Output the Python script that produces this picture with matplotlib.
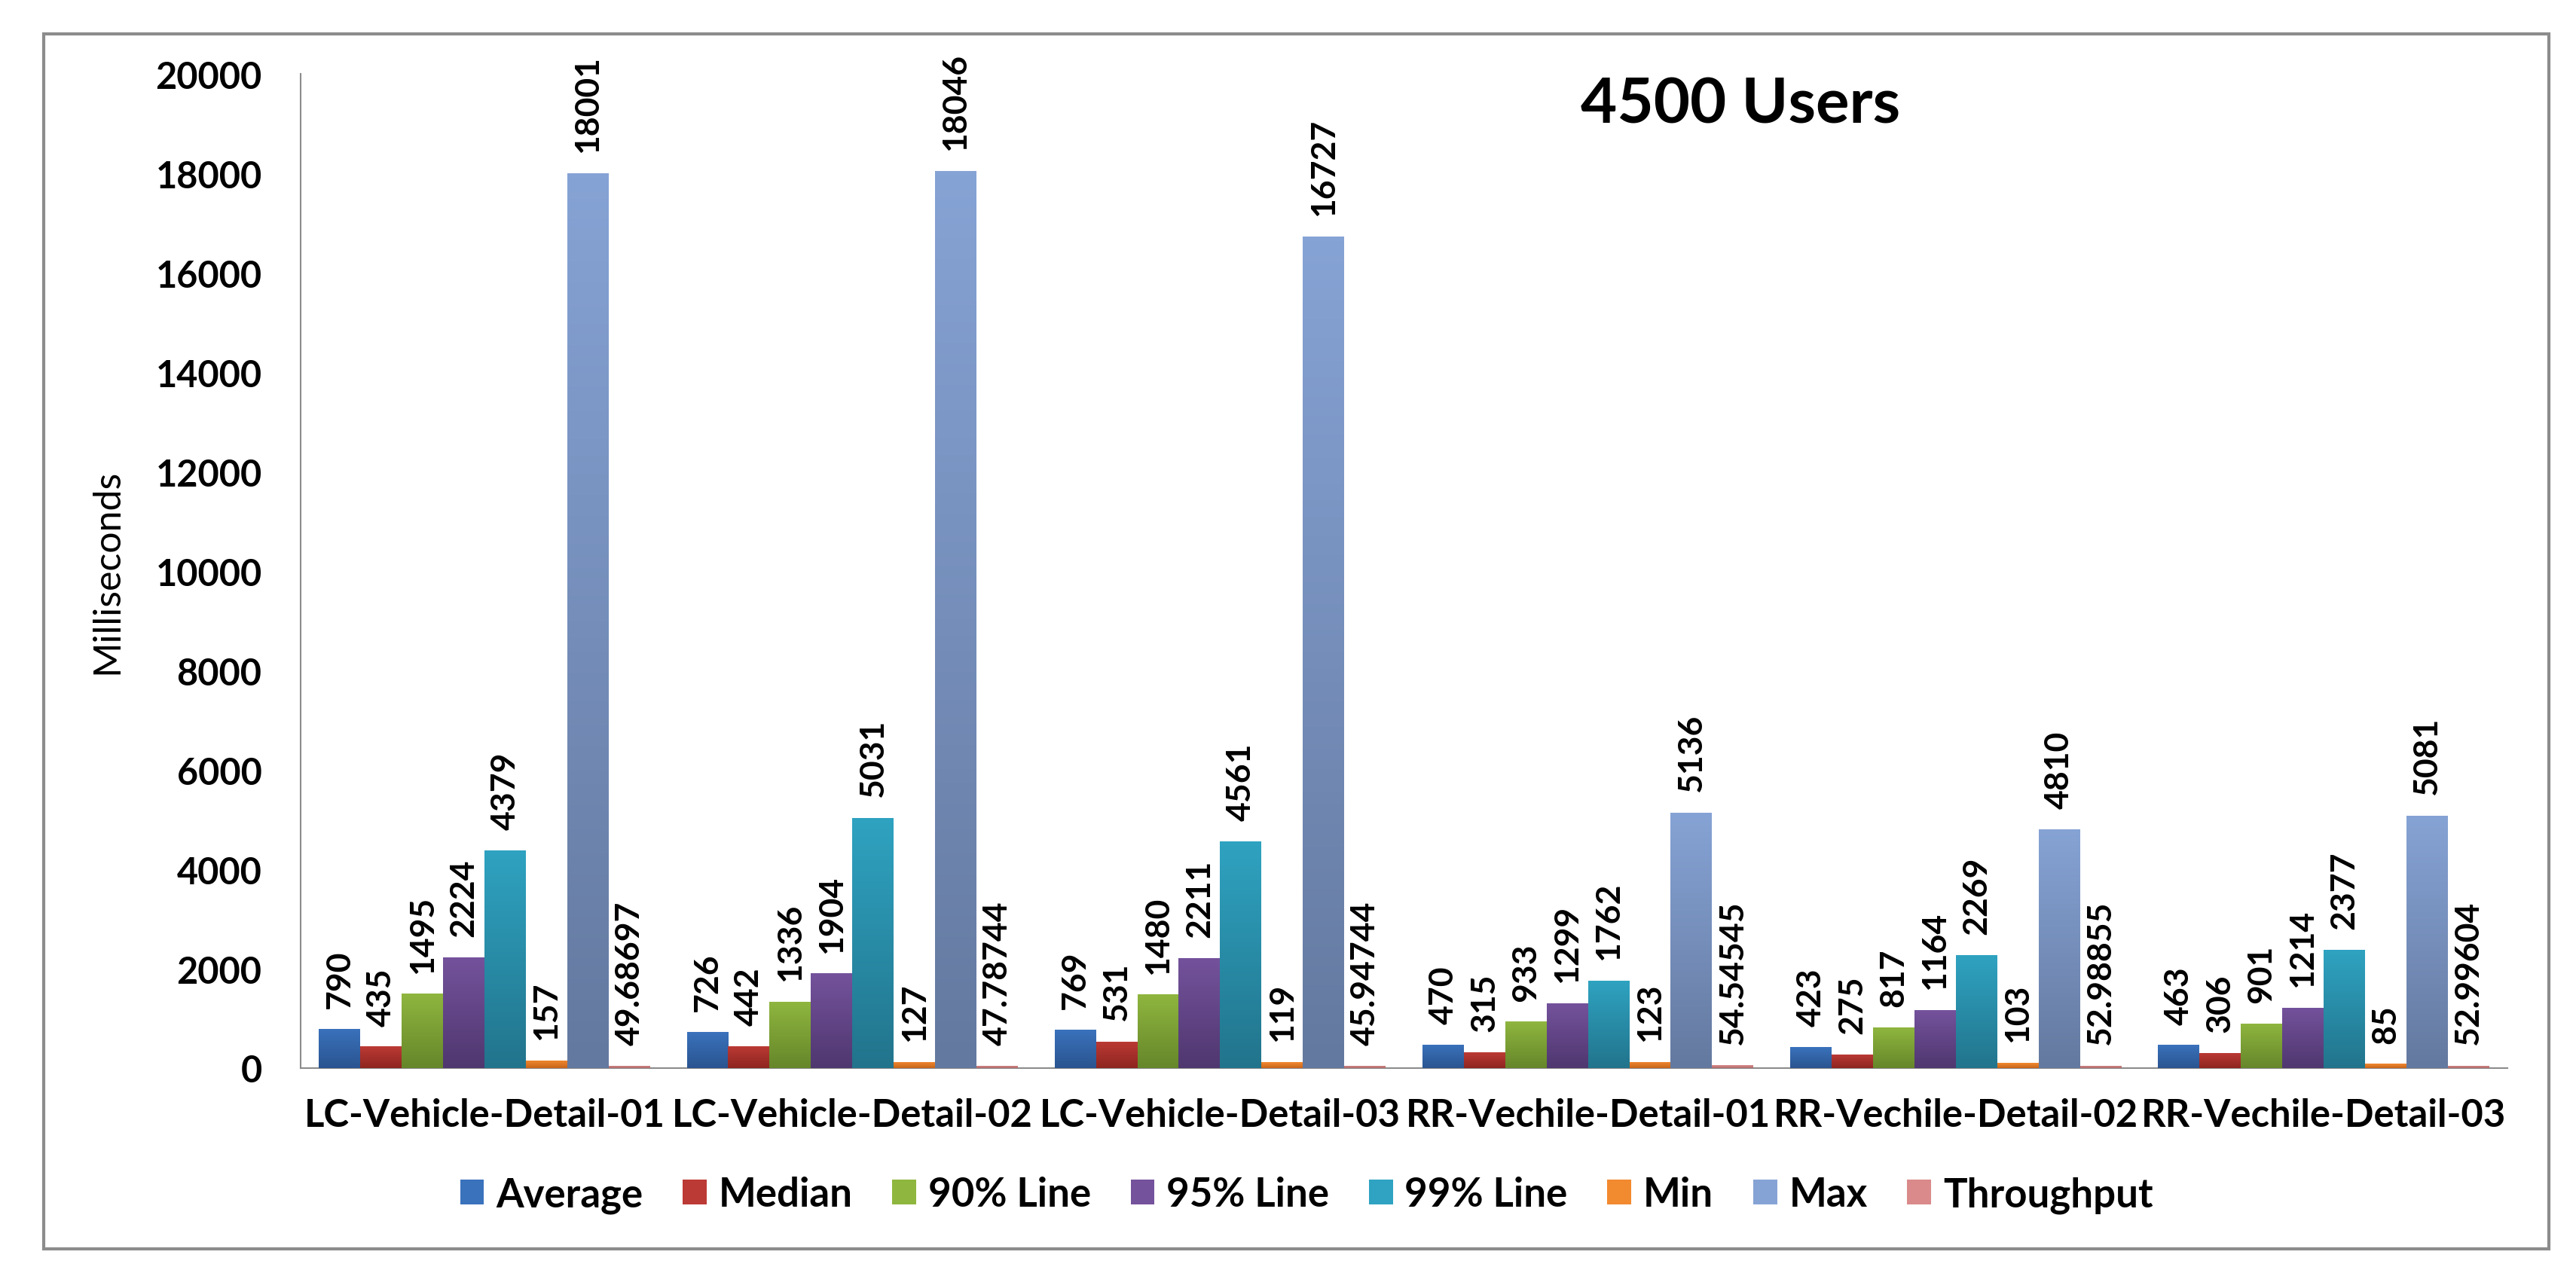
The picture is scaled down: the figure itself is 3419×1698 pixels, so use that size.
import matplotlib
matplotlib.use("Agg")
import matplotlib.pyplot as plt
import numpy as np
from matplotlib.colors import LinearSegmentedColormap
from matplotlib.patches import Rectangle

plt.rcParams['font.family'] = ['Lato', 'DejaVu Sans']

categories = ["LC-Vehicle-Detail-01", "LC-Vehicle-Detail-02", "LC-Vehicle-Detail-03",
              "RR-Vechile-Detail-01", "RR-Vechile-Detail-02", "RR-Vechile-Detail-03"]
series_names = ["Average", "Median", "90% Line", "95% Line", "99% Line", "Min", "Max", "Throughput"]

average = [790, 726, 769, 470, 423, 463]
median = [435, 442, 531, 315, 275, 306]
line90 = [1495, 1336, 1480, 933, 817, 901]
line95 = [2224, 1904, 2211, 1299, 1164, 1214]
line99 = [4379, 5031, 4561, 1762, 2269, 2377]
minimum = [157, 127, 119, 123, 103, 85]
maximum = [18001, 18046, 16727, 5136, 4810, 5081]
throughput = [49.68697, 47.78744, 45.94744, 54.54545, 52.98855, 52.99604]
label_text = [
    ["790", "726", "769", "470", "423", "463"],
    ["435", "442", "531", "315", "275", "306"],
    ["1495", "1336", "1480", "933", "817", "901"],
    ["2224", "1904", "2211", "1299", "1164", "1214"],
    ["4379", "5031", "4561", "1762", "2269", "2377"],
    ["157", "127", "119", "123", "103", "85"],
    ["18001", "18046", "16727", "5136", "4810", "5081"],
    ["49.68697", "47.78744", "45.94744", "54.54545", "52.98855", "52.99604"],
]
series = [average, median, line90, line95, line99, minimum, maximum, throughput]

# (top, bottom) colours of the excel style gradient
colors = [("#3A72BC", "#2A5490"), ("#BC3A35", "#8E2520"), ("#8FB63F", "#66862A"),
          ("#74529C", "#4F376F"), ("#2FA3C1", "#22748C"), ("#F28A30", "#C8651A"),
          ("#86A3D5", "#64799F"), ("#DA8A8A", "#B06A6A")]

fig = plt.figure(figsize=(34.19, 16.99), dpi=100)
fig.patches.append(Rectangle((58 / 3419, 1 - 1659 / 1699), (3383 - 58) / 3419, (1659 - 46) / 1699,
                             transform=fig.transFigure, fill=False, edgecolor="#8c8c8c", linewidth=3))
ax = fig.add_axes([399 / 3419, 1 - 1419 / 1699, (3328 - 399) / 3419, (1419 - 99) / 1699])

x = np.arange(len(categories))
n = len(series)
width = 0.9 / n
grad = np.linspace(0, 1, 256).reshape(-1, 1)

handles = []
for i, (vals, name) in enumerate(zip(series, series_names)):
    top, bottom = colors[i]
    pos = x - 0.45 + width * (i + 0.5)
    bars = ax.bar(pos, vals, width, color=top, label=name, zorder=2, linewidth=0)
    handles.append(bars)
    cmap = LinearSegmentedColormap.from_list("g%d" % i, [bottom, top])
    for rect, txt in zip(bars, label_text[i]):
        x0, w, h = rect.get_x(), rect.get_width(), rect.get_height()
        im = ax.imshow(grad, cmap=cmap, origin="lower", extent=[x0, x0 + w, 0, h],
                       aspect="auto", zorder=3, interpolation="bilinear")
        im.set_clip_path(rect)
        ax.annotate(txt, (x0 + w / 2, h), xytext=(0, 20), textcoords="offset points",
                    rotation=90, ha="center", va="bottom", fontsize=32, fontweight="bold")

ax.set_xlim(-0.5, len(categories) - 0.5)
ax.set_ylim(0, 20000)
ax.set_yticks(np.arange(0, 20001, 2000))
ax.set_xticks(x)
ax.set_xticklabels(categories, fontsize=36.5, fontweight="bold")
for lab in ax.get_yticklabels():
    lab.set_fontsize(35)
    lab.set_fontweight("bold")
ax.tick_params(axis="y", length=0, pad=37)
ax.tick_params(axis="x", length=0, pad=28)
for side in ["top", "right"]:
    ax.spines[side].set_visible(False)
for side in ["left", "bottom"]:
    ax.spines[side].set_color("#8c8c8c")
    ax.spines[side].set_linewidth(1.5)

fig.text(142 / 3419, 1 - 759 / 1699, "Milliseconds", rotation=90, ha="center", va="center", fontsize=36)
fig.text(2310 / 3419, 1 - 140 / 1699, "4500 Users", ha="center", va="center", fontsize=60, fontweight="bold")

fig.legend(handles=handles, labels=series_names, loc="center", bbox_to_anchor=(1734 / 3419, 1 - 1587 / 1699),
           ncol=8, frameon=False, handlelength=0.6, handleheight=0.6,
           handletextpad=0.3, columnspacing=1.0, prop={"weight": "bold", "size": 38})

fig.savefig("out.png", dpi=100)
